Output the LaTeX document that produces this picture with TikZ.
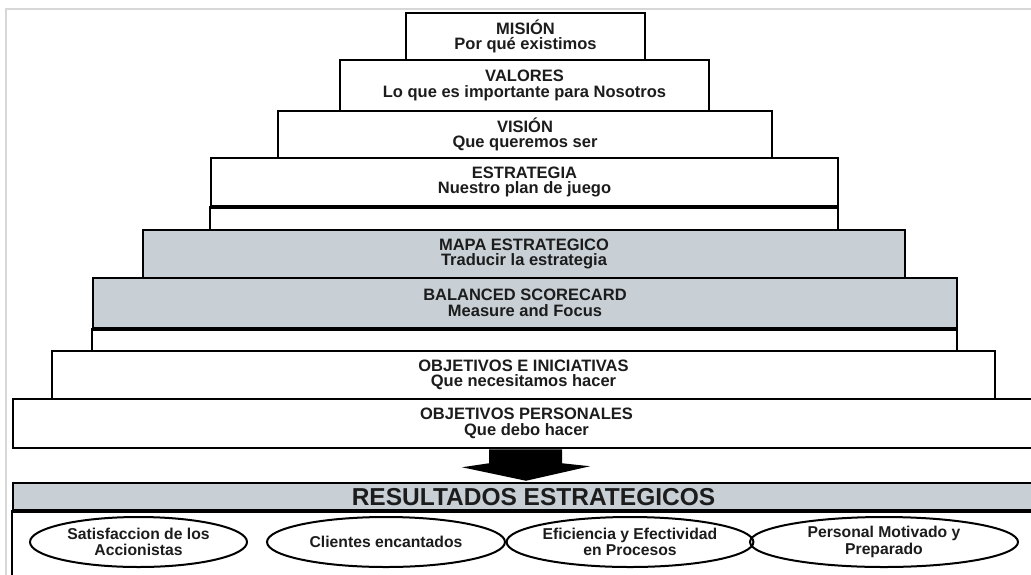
\documentclass[tikz,border=0pt]{standalone}
\usepackage{fontspec}
\setmainfont{Liberation Sans}
\usetikzlibrary{shapes.geometric,calc}
\definecolor{tiergrey}{RGB}{200,208,214}
\definecolor{ink}{RGB}{28,28,28}
\definecolor{framegrey}{RGB}{215,215,215}
\begin{document}
\begin{tikzpicture}[x=1pt,y=-1pt,
  tier/.style={draw=black, line width=2.5pt, rectangle, inner sep=0pt, align=center,
    text=ink, font=\fontsize{16.5}{15.5}\selectfont\bfseries},
  greytier/.style={tier, fill=tiergrey},
  strip/.style={draw=black, line width=2.5pt},
  goal/.style={draw=black, line width=2pt, ellipse, inner sep=0pt, align=center,
    text=ink, font=\fontsize{15.7}{16.5}\selectfont\bfseries},
  headline/.style={text=ink, inner sep=0pt, font=\fontsize{24.5}{24.5}\selectfont\bfseries},
  framing/.style={draw=framegrey, line width=1.5pt}]
\useasboundingbox (0,0) rectangle (1031,574);
\fill[white] (0,0) rectangle (1031,574);
\draw[framing] (6,580) -- (6,9) -- (1040,9);

% pyramid tiers
\node[tier, minimum width=239, minimum height=47] (mision) at (525.5,36.5)
  {MISIÓN\\Por qué existimos};
\node[tier, minimum width=369, minimum height=51] (valores) at (524.5,85.5)
  {VALORES\\Lo que es importante para Nosotros};
\node[tier, minimum width=494, minimum height=47] (vision) at (525,134.5)
  {VISIÓN\\Que queremos ser};
\node[tier, minimum width=627, minimum height=48] (estrategia) at (524.5,182)
  {ESTRATEGIA\\Nuestro plan de juego};
\draw[strip] (estrategia.south west) rectangle (838,230);
\node[greytier, minimum width=762, minimum height=48] (mapa) at (524,254)
  {MAPA ESTRATEGICO\\Traducir la estrategia};
\node[greytier, minimum width=864, minimum height=50] (bsc) at (525,303)
  {BALANCED SCORECARD\\ Measure and Focus};
\draw[strip] (bsc.south west) rectangle (957,351);
\node[tier, minimum width=943, minimum height=48] (objetivos) at (523.5,375)
  {OBJETIVOS E INICIATIVAS\\Que necesitamos hacer};
\node[tier, minimum width=1027, minimum height=49] (personales) at (526.5,423.5)
  {OBJETIVOS PERSONALES\\Que debo hacer};

% results
\node[greytier, minimum width=1027, minimum height=27] (res) at (526.5,496.5) {};
\node[headline] (restitle) at ($(res.center)+(7,1)$) {RESULTADOS ESTRATEGICOS};
\draw[strip] (res.south west) rectangle (1040,590);

\node[goal, minimum width=217, minimum height=50] (g1) at (138.5,542)
  {Satisfaccion de los\\Accionistas};
\node[goal, minimum width=238, minimum height=50] (g2) at (386,542)
  {Clientes encantados};
\node[goal, minimum width=226, minimum height=50] (g3) at (630,542)
  {Eficiencia y Efectividad\\en Procesos};
\node[goal, minimum width=268, minimum height=50] (g4) at (884,542)
  {Personal Motivado y\\Preparado};

% big arrow from personal objectives to results
\path (526,0) coordinate (ax);
\coordinate (aTop) at (personales.south -| ax);
\coordinate (aTip) at ($(res.north -| ax)+(0,-1)$);
\fill[black] ($(aTop)+(-37,0)$) -- ($(aTop)+(36,0)$) -- ($(aTop)+(36,14)$)
  -- ($(aTop)+(64,17)$) -- (aTip) -- ($(aTop)+(-64,18)$)
  -- ($(aTop)+(-37,14)$) -- cycle;
\end{tikzpicture}
\end{document}
